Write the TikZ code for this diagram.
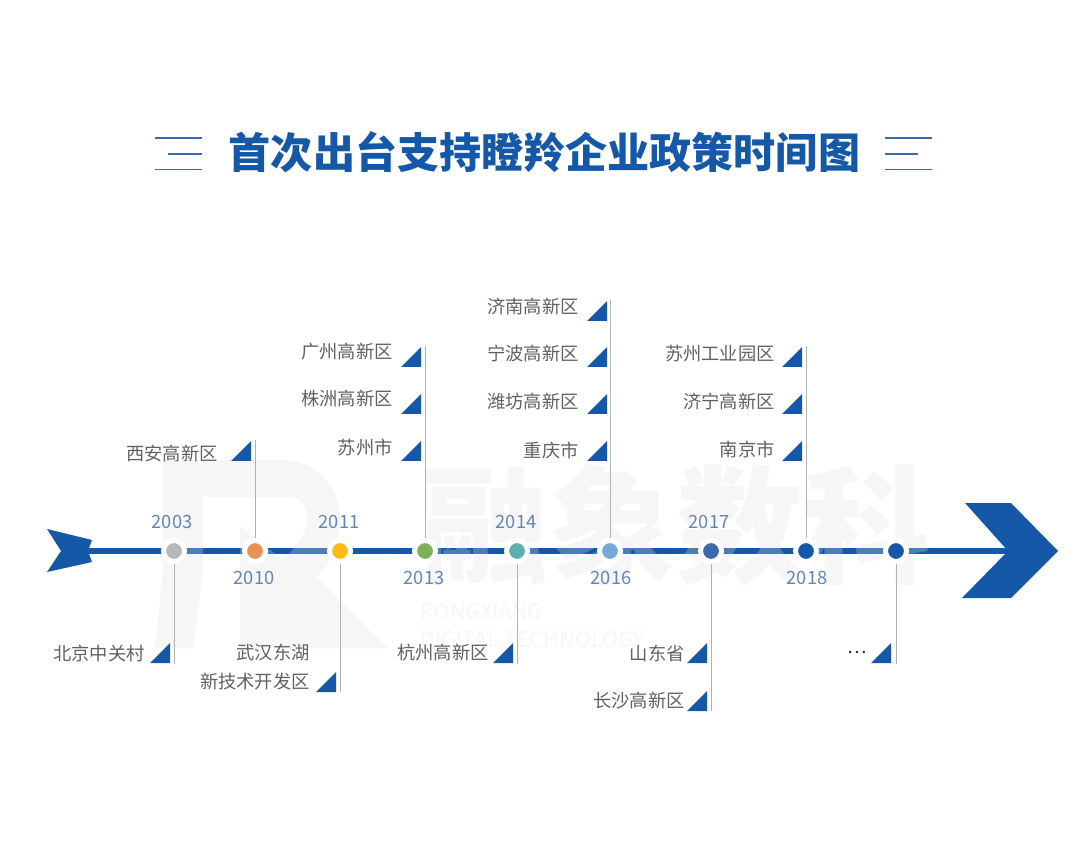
\documentclass[tikz,border=0pt]{standalone}
\usepackage{fontspec}
\setmainfont{Noto Sans CJK SC}
\definecolor{mainblue}{HTML}{1558A8}
\definecolor{barblue}{HTML}{3F6AA8}
\definecolor{yearblue}{HTML}{6585B8}
\definecolor{markgray}{HTML}{DFDFDF}
\tikzset{
  yeardot/.style={circle,draw=white,line width=0.05in,minimum size=0.21in,inner sep=0pt},
  yearlabel/.style={text=yearblue,font=\fontsize{13.2pt}{15pt}\selectfont,inner sep=0pt},
  placelabel/.style={anchor=east,text=black!62,font=\fontsize{13.2pt}{15pt}\selectfont,inner sep=0pt},
  marktext/.style={anchor=west,text=markgray,text opacity=0.28,font=\fontsize{15.6pt}{18pt}\selectfont,inner sep=0pt},
  stem/.style={color=black!30,line width=0.6pt},
  axisline/.style={color=mainblue,line width=0.05in},
  titlebar/.style={color=barblue,line width=1.2pt},
  marker/.pic={\fill[mainblue] (-20,0) -- (0,0) -- (0,-20) -- cycle;}
}

\begin{document}
\begin{tikzpicture}[x=0.01in,y=-0.01in]
  \useasboundingbox (0,0) rectangle (1080,846);

  % title
  \node[text=mainblue,font=\bfseries\fontsize{30.4pt}{34pt}\selectfont,inner sep=0pt] (title) at (544.5,152) {首次出台支持瞪羚企业政策时间图};
  \draw[titlebar] (155,138) -- (202,138);
  \draw[titlebar] (168,154) -- (202,154);
  \draw[titlebar] (155,169.5) -- (202,169.5);
  \draw[titlebar] (885,138) -- (932,138);
  \draw[titlebar] (885,154) -- (918,154);
  \draw[titlebar] (885,169.5) -- (932,169.5);

  % axis
  \coordinate (axisstart) at (85,551);
  \coordinate (axisend) at (1010,551);
  \draw[axisline] (axisstart) -- (axisend);
  \fill[mainblue] (47,529) -- (92,540) -- (88,551) -- (92,562) -- (47,572) -- (61,551) -- cycle;
  \fill[mainblue] (965,503) -- (1011,503) -- (1058,551) -- (1011,598) -- (962,598) -- (1008,551) -- cycle;

  % watermark
  \fill[markgray,fill opacity=0.28] (163,460) -- (280,460) .. controls (320,460) and (340,490) .. (340,517)
    .. controls (340,545) and (330,565) .. (317,577) -- (387,648) -- (240,648) -- (240,527) -- (283,560)
    .. controls (298,545) and (307,532) .. (307,520) .. controls (307,505) and (300,497) .. (290,497)
    -- (203,497) -- (203,570) -- (193,648) -- (155,648) -- (163,570) -- cycle;
  \node[text=markgray,text opacity=0.28,font=\bfseries\fontsize{92pt}{92pt}\selectfont,inner sep=0pt] (markname) at (676,525) {融象数科};
  \node[marktext] (markone) at (420,612) {RONGXIANG};
  \node[marktext] (marktwo) at (420,640) {DIGITAL TECHNOLOGY};

  \node[yeardot,fill=black!28] (d2003) at (174,551) {};
  \node[yeardot,fill={rgb,255:red,232;green,146;blue,88}] (d2010) at (255,551) {};
  \node[yeardot,fill={rgb,255:red,250;green,188;blue,20}] (d2011) at (340,551) {};
  \node[yeardot,fill={rgb,255:red,125;green,176;blue,90}] (d2013) at (425,551) {};
  \node[yeardot,fill={rgb,255:red,92;green,174;blue,176}] (d2014) at (517,551) {};
  \node[yeardot,fill={rgb,255:red,116;green,170;blue,216}] (d2016) at (610,551) {};
  \node[yeardot,fill={rgb,255:red,59;green,104;blue,174}] (d2017) at (711,551) {};
  \node[yeardot,fill=mainblue] (d2018) at (806,551) {};
  \node[yeardot,fill=mainblue] (dmore) at (896,551) {};

  % stems
  \coordinate (e2003) at (174,664);
  \coordinate (e2010) at (255,440);
  \coordinate (e2011) at (340,692);
  \coordinate (e2013) at (425,346);
  \coordinate (e2014) at (517,664);
  \coordinate (e2016) at (610,300);
  \coordinate (e2017) at (711,711);
  \coordinate (e2018) at (806,346);
  \coordinate (emore) at (896,664);
  \draw[stem] (d2003) -- (e2003);
  \draw[stem] (d2010) -- (e2010);
  \draw[stem] (d2011) -- (e2011);
  \draw[stem] (d2013) -- (e2013);
  \draw[stem] (d2014) -- (e2014);
  \draw[stem] (d2016) -- (e2016);
  \draw[stem] (d2017) -- (e2017);
  \draw[stem] (d2018) -- (e2018);
  \draw[stem] (dmore) -- (emore);

  \node[yearlabel] (y2003) at (172,522) {2003};
  \node[yearlabel] (y2010) at (254,578) {2010};
  \node[yearlabel] (y2011) at (339,522) {2011};
  \node[yearlabel] (y2013) at (424,578) {2013};
  \node[yearlabel] (y2014) at (516,522) {2014};
  \node[yearlabel] (y2016) at (611,578) {2016};
  \node[yearlabel] (y2017) at (709,522) {2017};
  \node[yearlabel] (y2018) at (807,578) {2018};

  % places under the axis
  \node[placelabel] (beijing) at (145,653) {北京中关村};
  \pic at (170,663) {marker};
  \node[placelabel] (wuhan) at (310,653) {武汉东湖};
  \node[placelabel] (xinji) at (310,682) {新技术开发区};
  \pic at (336,692) {marker};
  \node[placelabel] (hangzhou) at (489,653) {杭州高新区};
  \pic at (513,663) {marker};
  \node[placelabel] (shandong) at (685,653) {山东省};
  \pic at (707,663) {marker};
  \node[placelabel] (changsha) at (685,701) {长沙高新区};
  \pic at (707,711) {marker};
  \node[placelabel,text=black!85] (dots) at (867,652) {…};
  \pic at (891,663) {marker};

  % places over the axis
  \node[placelabel] (xian) at (218,454) {西安高新区};
  \pic at (251,461) {marker};

  \node[placelabel] (guangzhou) at (393,352) {广州高新区};
  \pic at (421,367) {marker};
  \node[placelabel] (zhuzhou) at (393,399) {株洲高新区};
  \pic at (421,414) {marker};
  \node[placelabel] (suzhou) at (393,447) {苏州市};
  \pic at (421,461) {marker};

  \node[placelabel] (jinan) at (579,307) {济南高新区};
  \pic at (607,321) {marker};
  \node[placelabel] (ningbo) at (579,354) {宁波高新区};
  \pic at (607,367) {marker};
  \node[placelabel] (weifang) at (579,402) {潍坊高新区};
  \pic at (607,414) {marker};
  \node[placelabel] (chongqing) at (579,450) {重庆市};
  \pic at (607,461) {marker};

  \node[placelabel] (suzhoupark) at (775,354) {苏州工业园区};
  \pic at (802,367) {marker};
  \node[placelabel] (jining) at (775,402) {济宁高新区};
  \pic at (802,414) {marker};
  \node[placelabel] (nanjing) at (775,450) {南京市};
  \pic at (802,461) {marker};
\end{tikzpicture}
\end{document}
